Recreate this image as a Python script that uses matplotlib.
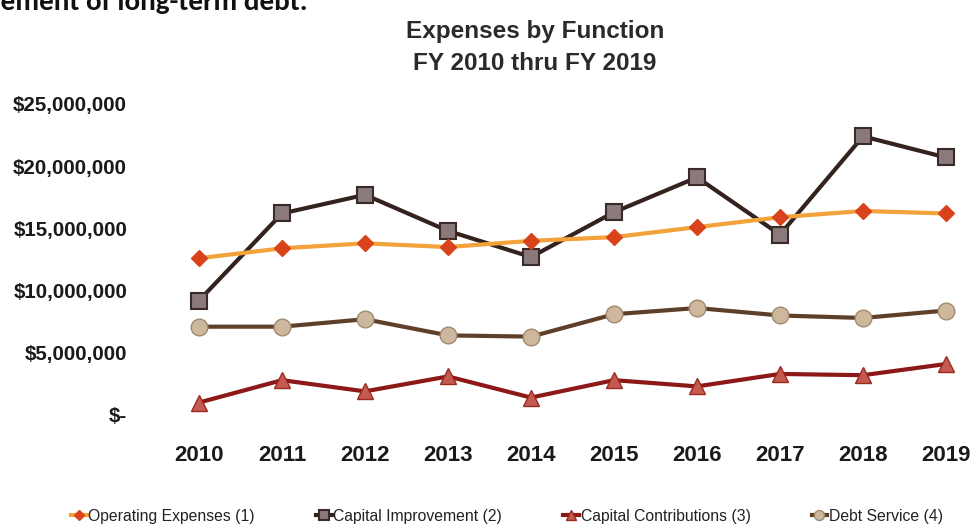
import matplotlib
matplotlib.use("Agg")
import matplotlib.pyplot as plt
from matplotlib.ticker import FuncFormatter

plt.rcParams['font.family'] = ['Liberation Sans', 'DejaVu Sans']

years = ["2010", "2011", "2012", "2013", "2014", "2015", "2016", "2017", "2018", "2019"]
operating = [12.6, 13.4, 13.8, 13.5, 14.0, 14.3, 15.1, 15.9, 16.4, 16.2]
capital_improvement = [9.2, 16.2, 17.7, 14.8, 12.7, 16.3, 19.1, 14.5, 22.4, 20.7]
capital_contributions = [1.0, 2.8, 1.9, 3.1, 1.4, 2.8, 2.3, 3.3, 3.2, 4.1]
debt_service = [7.1, 7.1, 7.7, 6.4, 6.3, 8.1, 8.6, 8.0, 7.8, 8.4]
yticks = [0, 5, 10, 15, 20, 25]

W, H = 973, 531
fig = plt.figure(figsize=(W / 100, H / 100), dpi=100)

# axes box in pixels
ax_l, ax_r, ax_t, ax_b = 150, 973, 95, 440
ax = fig.add_axes([ax_l / W, 1 - ax_b / H, (ax_r - ax_l) / W, (ax_b - ax_t) / H])

x = list(range(len(years)))
sx = 83.0
x0px = 199
ax.set_xlim(-(x0px - ax_l) / sx, (ax_r - x0px) / sx)
py = (415 - 104) / 25.0
ax.set_ylim(-(ax_b - 415) / py, 25 + (104 - ax_t) / py)

l_ci, = ax.plot(x, capital_improvement, color='#33221e', lw=3, marker='s', ms=11,
                mfc='#8a7a7c', mec='#3a2a28', mew=1.5, zorder=3,
                label='Capital Improvement (2)')
l_op, = ax.plot(x, operating, color='#f2a23a', lw=3, marker='D', ms=8,
                mfc='#d8431c', mec='#d8431c', zorder=4,
                label='Operating Expenses (1)')
l_cc, = ax.plot(x, capital_contributions, color='#8c1818', lw=3, marker='^', ms=12,
                mfc='#c45a50', mec='#9a2a22', mew=1, zorder=3,
                label='Capital Contributions (3)')
l_ds, = ax.plot(x, debt_service, color='#5e3f2a', lw=3, marker='o', ms=12,
                mfc='#cdb89e', mec='#a08a70', mew=1, zorder=3,
                label='Debt Service (4)')

ax.set_xticks(x)
ax.set_xticklabels(years, fontsize=16, fontweight='bold', color='#1a1a1a')
ax.set_yticks(yticks)
ax.yaxis.set_major_formatter(FuncFormatter(
    lambda v, p: '$-' if v == 0 else '${:,.0f}'.format(v * 1e6)))
for t in ax.get_yticklabels():
    t.set_fontsize(14.8)
    t.set_fontweight('bold')
    t.set_color('#1a1a1a')
ax.tick_params(length=0)
ax.tick_params(axis='x', pad=3.5)
ax.tick_params(axis='y', pad=16.5)
for s in ax.spines.values():
    s.set_visible(False)

fig.text(535 / W, 1 - 38 / H, 'Expenses by Function', ha='center', va='baseline',
         fontsize=17.5, fontweight='bold', color='#2a2a2a')
fig.text(535 / W, 1 - 70 / H, 'FY 2010 thru FY 2019', ha='center', va='baseline',
         fontsize=17.5, fontweight='bold', color='#2a2a2a')

fig.text(308 / W, 1 - 10 / H, 'Debt Service includes the retirement of long-term debt.',
         ha='right', va='baseline', fontsize=21, fontweight='bold', color='#111111',
         family=['Carlito', 'DejaVu Sans'])

leg = fig.legend(handles=[l_op, l_ci, l_cc, l_ds], loc='center',
                 bbox_to_anchor=(507 / W, 1 - 516 / H), ncol=4, frameon=False,
                 fontsize=11.3, handlelength=1.0, handletextpad=0.1,
                 columnspacing=3.9, markerscale=0.6)
for t in leg.get_texts():
    t.set_color('#222222')

fig.savefig('out.png', dpi=100)
